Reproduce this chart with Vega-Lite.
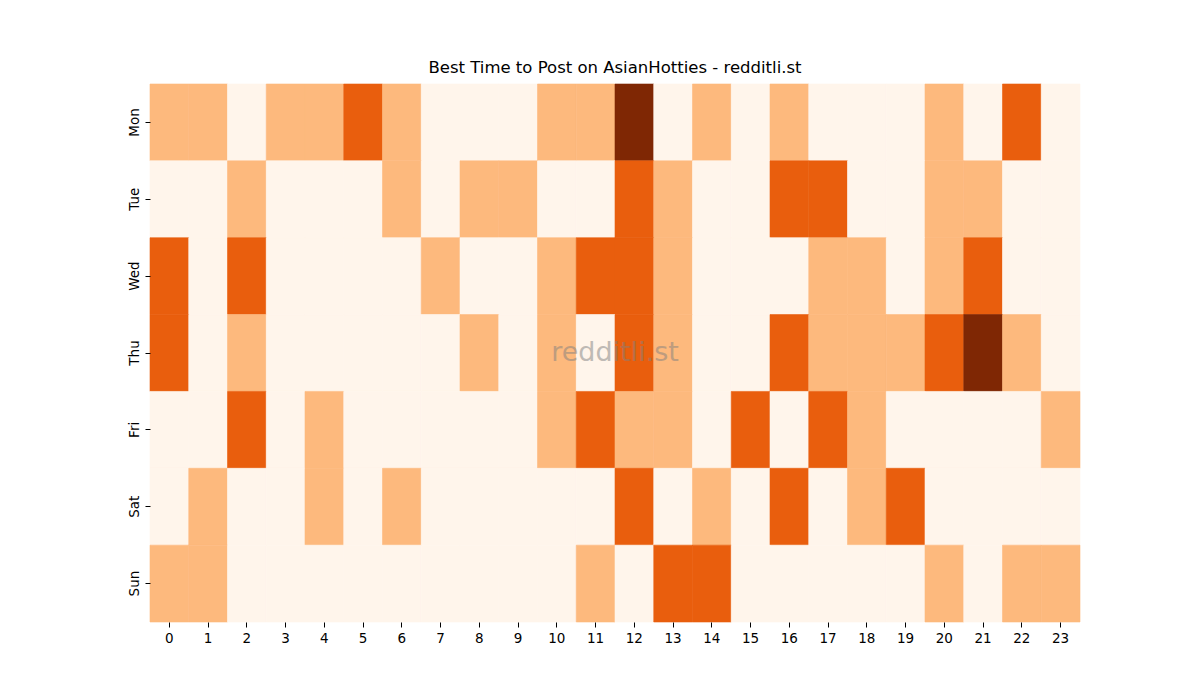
{
"$schema": "https://vega.github.io/schema/vega-lite/v6.json",
"width": 930, "height": 538,
"autosize": {"type": "none"},
"padding": {"left": 150, "top": 84, "right": 120, "bottom": 78},
"background": "white",
"config": {"view": {"stroke": null}, "font": "DejaVu Sans"},
"title": {"text": "Best Time to Post on AsianHotties - redditli.st", "fontSize": 16.5, "fontWeight": "normal", "font": "DejaVu Sans", "color": "black", "offset": 7},
"layer": [
{
"data": {"values": [
{"d":"Mon","h":0,"v":1},{"d":"Mon","h":1,"v":1},{"d":"Mon","h":2,"v":0},{"d":"Mon","h":3,"v":1},{"d":"Mon","h":4,"v":1},{"d":"Mon","h":5,"v":2},{"d":"Mon","h":6,"v":1},{"d":"Mon","h":7,"v":0},{"d":"Mon","h":8,"v":0},{"d":"Mon","h":9,"v":0},{"d":"Mon","h":10,"v":1},{"d":"Mon","h":11,"v":1},{"d":"Mon","h":12,"v":3},{"d":"Mon","h":13,"v":0},{"d":"Mon","h":14,"v":1},{"d":"Mon","h":15,"v":0},{"d":"Mon","h":16,"v":1},{"d":"Mon","h":17,"v":0},{"d":"Mon","h":18,"v":0},{"d":"Mon","h":19,"v":0},{"d":"Mon","h":20,"v":1},{"d":"Mon","h":21,"v":0},{"d":"Mon","h":22,"v":2},{"d":"Mon","h":23,"v":0},
{"d":"Tue","h":0,"v":0},{"d":"Tue","h":1,"v":0},{"d":"Tue","h":2,"v":1},{"d":"Tue","h":3,"v":0},{"d":"Tue","h":4,"v":0},{"d":"Tue","h":5,"v":0},{"d":"Tue","h":6,"v":1},{"d":"Tue","h":7,"v":0},{"d":"Tue","h":8,"v":1},{"d":"Tue","h":9,"v":1},{"d":"Tue","h":10,"v":0},{"d":"Tue","h":11,"v":0},{"d":"Tue","h":12,"v":2},{"d":"Tue","h":13,"v":1},{"d":"Tue","h":14,"v":0},{"d":"Tue","h":15,"v":0},{"d":"Tue","h":16,"v":2},{"d":"Tue","h":17,"v":2},{"d":"Tue","h":18,"v":0},{"d":"Tue","h":19,"v":0},{"d":"Tue","h":20,"v":1},{"d":"Tue","h":21,"v":1},{"d":"Tue","h":22,"v":0},{"d":"Tue","h":23,"v":0},
{"d":"Wed","h":0,"v":2},{"d":"Wed","h":1,"v":0},{"d":"Wed","h":2,"v":2},{"d":"Wed","h":3,"v":0},{"d":"Wed","h":4,"v":0},{"d":"Wed","h":5,"v":0},{"d":"Wed","h":6,"v":0},{"d":"Wed","h":7,"v":1},{"d":"Wed","h":8,"v":0},{"d":"Wed","h":9,"v":0},{"d":"Wed","h":10,"v":1},{"d":"Wed","h":11,"v":2},{"d":"Wed","h":12,"v":2},{"d":"Wed","h":13,"v":1},{"d":"Wed","h":14,"v":0},{"d":"Wed","h":15,"v":0},{"d":"Wed","h":16,"v":0},{"d":"Wed","h":17,"v":1},{"d":"Wed","h":18,"v":1},{"d":"Wed","h":19,"v":0},{"d":"Wed","h":20,"v":1},{"d":"Wed","h":21,"v":2},{"d":"Wed","h":22,"v":0},{"d":"Wed","h":23,"v":0},
{"d":"Thu","h":0,"v":2},{"d":"Thu","h":1,"v":0},{"d":"Thu","h":2,"v":1},{"d":"Thu","h":3,"v":0},{"d":"Thu","h":4,"v":0},{"d":"Thu","h":5,"v":0},{"d":"Thu","h":6,"v":0},{"d":"Thu","h":7,"v":0},{"d":"Thu","h":8,"v":1},{"d":"Thu","h":9,"v":0},{"d":"Thu","h":10,"v":1},{"d":"Thu","h":11,"v":0},{"d":"Thu","h":12,"v":2},{"d":"Thu","h":13,"v":1},{"d":"Thu","h":14,"v":0},{"d":"Thu","h":15,"v":0},{"d":"Thu","h":16,"v":2},{"d":"Thu","h":17,"v":1},{"d":"Thu","h":18,"v":1},{"d":"Thu","h":19,"v":1},{"d":"Thu","h":20,"v":2},{"d":"Thu","h":21,"v":3},{"d":"Thu","h":22,"v":1},{"d":"Thu","h":23,"v":0},
{"d":"Fri","h":0,"v":0},{"d":"Fri","h":1,"v":0},{"d":"Fri","h":2,"v":2},{"d":"Fri","h":3,"v":0},{"d":"Fri","h":4,"v":1},{"d":"Fri","h":5,"v":0},{"d":"Fri","h":6,"v":0},{"d":"Fri","h":7,"v":0},{"d":"Fri","h":8,"v":0},{"d":"Fri","h":9,"v":0},{"d":"Fri","h":10,"v":1},{"d":"Fri","h":11,"v":2},{"d":"Fri","h":12,"v":1},{"d":"Fri","h":13,"v":1},{"d":"Fri","h":14,"v":0},{"d":"Fri","h":15,"v":2},{"d":"Fri","h":16,"v":0},{"d":"Fri","h":17,"v":2},{"d":"Fri","h":18,"v":1},{"d":"Fri","h":19,"v":0},{"d":"Fri","h":20,"v":0},{"d":"Fri","h":21,"v":0},{"d":"Fri","h":22,"v":0},{"d":"Fri","h":23,"v":1},
{"d":"Sat","h":0,"v":0},{"d":"Sat","h":1,"v":1},{"d":"Sat","h":2,"v":0},{"d":"Sat","h":3,"v":0},{"d":"Sat","h":4,"v":1},{"d":"Sat","h":5,"v":0},{"d":"Sat","h":6,"v":1},{"d":"Sat","h":7,"v":0},{"d":"Sat","h":8,"v":0},{"d":"Sat","h":9,"v":0},{"d":"Sat","h":10,"v":0},{"d":"Sat","h":11,"v":0},{"d":"Sat","h":12,"v":2},{"d":"Sat","h":13,"v":0},{"d":"Sat","h":14,"v":1},{"d":"Sat","h":15,"v":0},{"d":"Sat","h":16,"v":2},{"d":"Sat","h":17,"v":0},{"d":"Sat","h":18,"v":1},{"d":"Sat","h":19,"v":2},{"d":"Sat","h":20,"v":0},{"d":"Sat","h":21,"v":0},{"d":"Sat","h":22,"v":0},{"d":"Sat","h":23,"v":0},
{"d":"Sun","h":0,"v":1},{"d":"Sun","h":1,"v":1},{"d":"Sun","h":2,"v":0},{"d":"Sun","h":3,"v":0},{"d":"Sun","h":4,"v":0},{"d":"Sun","h":5,"v":0},{"d":"Sun","h":6,"v":0},{"d":"Sun","h":7,"v":0},{"d":"Sun","h":8,"v":0},{"d":"Sun","h":9,"v":0},{"d":"Sun","h":10,"v":0},{"d":"Sun","h":11,"v":1},{"d":"Sun","h":12,"v":0},{"d":"Sun","h":13,"v":2},{"d":"Sun","h":14,"v":2},{"d":"Sun","h":15,"v":0},{"d":"Sun","h":16,"v":0},{"d":"Sun","h":17,"v":0},{"d":"Sun","h":18,"v":0},{"d":"Sun","h":19,"v":0},{"d":"Sun","h":20,"v":1},{"d":"Sun","h":21,"v":0},{"d":"Sun","h":22,"v":1},{"d":"Sun","h":23,"v":1}
]},
"mark": {"type": "rect", "strokeWidth": 0.6},
"encoding": {
"x": {"field": "h", "type": "ordinal", "scale": {"paddingInner": 0, "paddingOuter": 0}, "axis": {"title": null, "labelAngle": 0, "domain": false, "grid": false, "tickSize": 5, "tickColor": "black", "labelColor": "black", "labelFontSize": 13.5, "labelPadding": 4, "labelFont": "DejaVu Sans"}},
"y": {"field": "d", "type": "ordinal", "scale": {"domain": ["Mon","Tue","Wed","Thu","Fri","Sat","Sun"], "paddingInner": 0, "paddingOuter": 0}, "axis": {"title": null, "labelAngle": -90, "domain": false, "grid": false, "tickSize": 5, "tickColor": "black", "labelColor": "black", "labelFontSize": 13.5, "labelPadding": 4, "labelFont": "DejaVu Sans", "labelAlign": "center", "labelBaseline": "bottom"}},
"color": {"field": "v", "type": "ordinal", "scale": {"domain": [0,1,2,3], "range": ["#fff5eb","#fdb97d","#e95e0d","#7f2704"]}, "legend": null},
"stroke": {"field": "v", "type": "ordinal", "scale": {"domain": [0,1,2,3], "range": ["#fff5eb","#fdb97d","#e95e0d","#7f2704"]}, "legend": null}
}
},
{
"data": {"values": [{"h": 12, "d": "Thu", "t": "redditli.st"}]},
"mark": {"type": "text", "fontSize": 27, "font": "DejaVu Sans", "color": "gray", "opacity": 0.5, "align": "center", "baseline": "middle"},
"encoding": {
"x": {"field": "h", "type": "ordinal", "bandPosition": 0},
"y": {"field": "d", "type": "ordinal", "bandPosition": 0.5},
"text": {"field": "t"}
}
}
]
}
